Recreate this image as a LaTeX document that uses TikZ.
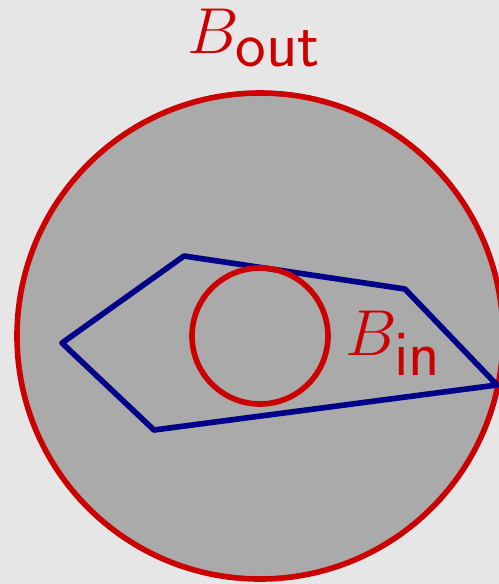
\RequirePackage{fix-cm}
\documentclass[tikz,border=0pt]{standalone}
\usepackage{amsmath,amssymb}
\usepackage{tikz}
\usetikzlibrary{positioning,calc}
\usepackage{xcolor}
\definecolor{ballred}{RGB}{204,0,0}
\definecolor{polyblue}{RGB}{0,0,136}
\definecolor{ballfill}{RGB}{170,170,170}
\definecolor{pagebg}{RGB}{230,230,230}

\begin{document}
\begin{tikzpicture}[every node/.style={font=\fontsize{37}{40}\selectfont}]
\tikzstyle{ball}=[draw=ballred,line width=3.2pt]
\tikzstyle{poly}=[draw=polyblue,line width=3.2pt,line join=round]
\tikzstyle{lbl}=[text=ballred,inner sep=0pt]
\useasboundingbox (0,0) rectangle (9.98,-11.68);
\clip (0,0) rectangle (9.98,-11.68);
\fill[pagebg] (0,0) rectangle (9.98,-11.68);
\coordinate (c) at (5.2,-6.72);
% outer ball
\draw[ball,fill=ballfill] (c) circle (4.86);
% polygon
\coordinate (p1) at (1.24,-6.86);
\coordinate (p2) at (3.68,-5.12);
\coordinate (p3) at (8.10,-5.78);
\coordinate (p4) at (9.94,-7.70);
\coordinate (p5) at (3.08,-8.60);
\draw[poly] (p1) -- (p2) -- (p3) -- (p4) -- (p5) -- cycle;
% inner ball
\draw[ball] (c) circle (1.36);
\node[lbl] (bout) at (5.08,-0.76) {$B_{\mbox{\sffamily out}}$};
\node[lbl] (bin) at (7.87,-6.87) {$B_{\mbox{\sffamily in}}$};
\end{tikzpicture}
\end{document}
